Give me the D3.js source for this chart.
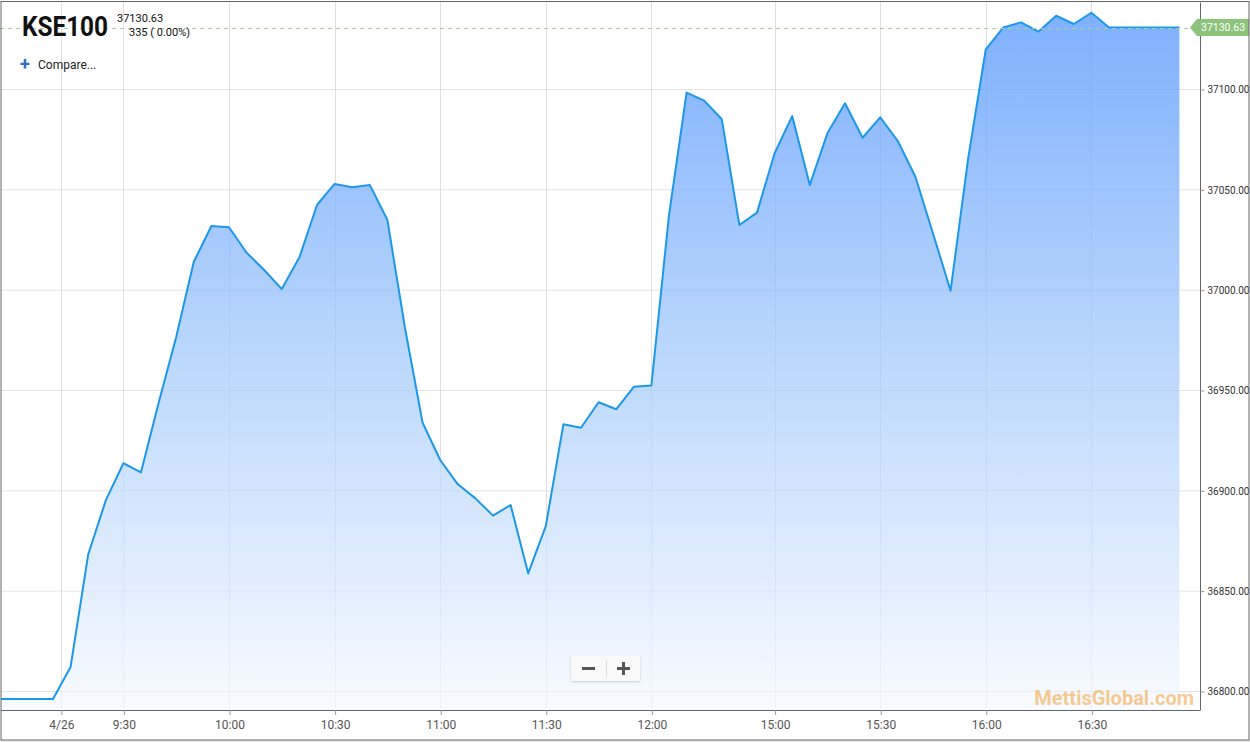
<!DOCTYPE html>
<html>
<head>
<meta charset="utf-8">
<script src="https://cdn.jsdelivr.net/npm/d3@7"></script>
<style>
  html, body { margin: 0; padding: 0; background: #fff; }
  svg { display: block; font-family: Roboto, "Noto Sans", sans-serif; }
</style>
</head>
<body>
<svg id="chart" width="1250" height="742"></svg>
<script>
// ---- data (5-minute points, index based; session break compressed) ----
const values = [
  36796, 36796, 36796, 36796, 36812, 36868, 36895, 36913.5, 36909, 36943.5,
  36976.4, 37013.9, 37031.7, 37031.1, 37018.4, 37009.8, 37000.3, 37016.1, 37042.2, 37052.7,
  37051, 37052.2, 37034.7, 36980.9, 36933.7, 36915.1, 36903, 36896, 36887.4, 36892.7,
  36858.6, 36882.2, 36932.9, 36931.2, 36943.9, 36940.4, 36951.6, 36952.3, 37037.2, 37098.2,
  37094.2, 37084.9, 37032.2, 37038.4, 37068, 37086.5, 37052.2, 37077.9, 37092.9, 37075.7,
  37085.9, 37074.1, 37056.3, 37028, 36999.5, 37065.5, 37119.8, 37130.7, 37133.2, 37128.6,
  37136.5, 37132.4, 37138, 37130.63, 37130.63, 37130.63, 37130.63, 37130.63
];
const xTickLabels = ["4/26", "9:30", "10:00", "10:30", "11:00", "11:30", "12:00", "15:00", "15:30", "16:00", "16:30"];
const xTickIndex  = [3.45, 7, 13, 19, 25, 31, 37, 44, 50, 56, 62];
const yTicks = [36800, 36850, 36900, 36950, 37000, 37050, 37100];
const symbol = "KSE100";
const lastPrice = 37130.63;
const changeText = "335 ( 0.00%)";
const watermark = "MettisGlobal.com";

// ---- layout ----
const svg = d3.select("#chart");
const plot = { left: 1, right: 1200, top: 2, bottom: 710 };

const x = d3.scaleLinear().domain([0, 68.17]).range([0.2, 1200]);
const y = d3.scaleLinear().domain([36800, 37100]).range([691, 89]);

svg.append("rect").attr("x", 0).attr("y", 740).attr("width", 1250).attr("height", 2).attr("fill", "#e9e9e9");

const defs = svg.append("defs");
const grad = defs.append("linearGradient").attr("id", "fillGrad")
  .attr("gradientUnits", "userSpaceOnUse").attr("x1", 0).attr("x2", 0).attr("y1", 12).attr("y2", plot.bottom);
grad.append("stop").attr("offset", 0).attr("stop-color", "#7eb0fd");
grad.append("stop").attr("offset", 0.5).attr("stop-color", "#bcd8fc");
grad.append("stop").attr("offset", 1).attr("stop-color", "#f8fbff");
defs.append("clipPath").attr("id", "plotClip").append("rect")
  .attr("x", plot.left).attr("y", plot.top).attr("width", plot.right - plot.left).attr("height", plot.bottom - plot.top);
const shadow = defs.append("filter").attr("id", "btnShadow").attr("x", "-20%").attr("y", "-30%").attr("width", "140%").attr("height", "170%");
shadow.append("feDropShadow").attr("dx", 0).attr("dy", 1).attr("stdDeviation", 1.2).attr("flood-color", "#000").attr("flood-opacity", 0.18);

// grid
const grid = svg.append("g");
grid.selectAll("line.h").data(yTicks).join("line")
  .attr("x1", plot.left).attr("x2", plot.right)
  .attr("y1", d => y(d) + 0.5).attr("y2", d => y(d) + 0.5)
  .attr("stroke", "#ececec").attr("stroke-width", 1);
grid.selectAll("line.v").data(xTickIndex).join("line")
  .attr("x1", d => Math.round(x(d)) + 0.5).attr("x2", d => Math.round(x(d)) + 0.5)
  .attr("y1", plot.top).attr("y2", plot.bottom)
  .attr("stroke", "#e9e9e9").attr("stroke-width", 1);

// area + line
const g = svg.append("g").attr("clip-path", "url(#plotClip)");
const area = d3.area().x((d, i) => x(i)).y0(plot.bottom).y1(d => y(d));
const line = d3.line().x((d, i) => x(i)).y(d => y(d));
g.append("path").datum(values).attr("d", area).attr("fill", "url(#fillGrad)");
g.selectAll("line.vo").data(xTickIndex).join("line")
  .attr("x1", d => Math.round(x(d)) + 0.5).attr("x2", d => Math.round(x(d)) + 0.5)
  .attr("y1", plot.top).attr("y2", plot.bottom)
  .attr("stroke", "#000").attr("stroke-opacity", 0.035);
g.selectAll("line.ho").data(yTicks).join("line")
  .attr("x1", plot.left).attr("x2", plot.right)
  .attr("y1", d => y(d) + 0.5).attr("y2", d => y(d) + 0.5)
  .attr("stroke", "#000").attr("stroke-opacity", 0.035);
g.append("path").datum(values).attr("d", line)
  .attr("fill", "none").attr("stroke", "#1c98ea").attr("stroke-width", 2).attr("stroke-linejoin", "round");

// last price dashed line
svg.append("line").attr("x1", 0).attr("x2", 1190)
  .attr("y1", Math.round(y(lastPrice)) + 0.5).attr("y2", Math.round(y(lastPrice)) + 0.5)
  .attr("stroke", "#a8cf98").attr("stroke-dasharray", "4,4").attr("stroke-width", 1);

// x axis
const xAxis = d3.axisBottom(x).tickValues(xTickIndex)
  .tickFormat((d, i) => xTickLabels[i]).tickSize(5).tickSizeOuter(0);
const xg = svg.append("g").attr("transform", `translate(0.5,${plot.bottom})`).call(xAxis);
xg.select(".domain").attr("stroke", "#666").attr("d", `M${plot.left - 0.5},0.5H${plot.right - 0.5}`);
xg.selectAll(".tick line").attr("stroke", "#999");
xg.selectAll(".tick text").attr("fill", "#555").attr("font-size", 12).attr("dy", "0.95em")
  .attr("font-family", "Roboto, sans-serif");

// y axis (right)
const yAxis = d3.axisRight(y).tickValues(yTicks).tickFormat(d3.format(".2f")).tickSize(4).tickPadding(3).tickSizeOuter(0);
const yg = svg.append("g").attr("transform", `translate(${plot.right + 0.5},0.5)`).call(yAxis);
yg.select(".domain").attr("stroke", "#666").attr("d", `M0,${plot.top}V${plot.bottom}`);
yg.selectAll(".tick line").attr("stroke", "#999");
yg.selectAll(".tick text").attr("fill", "#333").attr("font-size", 10).attr("font-family", "Roboto, sans-serif");

// price tag
const ty = y(lastPrice);
const tag = svg.append("g");
tag.append("path")
  .attr("d", `M1190,${ty} L1197,${ty - 8.5} H1249 V${ty + 8.5} H1197 Z`)
  .attr("fill", "#8cc279");
tag.append("text").attr("x", 1201).attr("y", ty).attr("dy", "0.35em")
  .attr("fill", "#fff").attr("font-size", 10.5).text(lastPrice.toFixed(2));

// outer frame
svg.append("rect").attr("x", 1).attr("y", 1.5).attr("width", 1248).attr("height", 738.5)
  .attr("fill", "none").attr("stroke", "#666").attr("stroke-width", 1);

// header
svg.append("text").attr("x", 22).attr("y", 36).attr("font-size", 28).attr("font-weight", 700)
  .attr("fill", "#111").attr("textLength", 86).attr("lengthAdjust", "spacingAndGlyphs").text(symbol);
svg.append("text").attr("x", 117).attr("y", 22).attr("font-size", 11).attr("fill", "#111").text(lastPrice.toFixed(2));
svg.append("text").attr("x", 129).attr("y", 36).attr("font-size", 11).attr("fill", "#111").text(changeText);
svg.append("text").attr("x", 20).attr("y", 70).attr("font-size", 18).attr("font-weight", 700).attr("fill", "#2a6fc9").text("+");
svg.append("text").attr("x", 38).attr("y", 69).attr("font-size", 12).attr("fill", "#222").text("Compare...");

// zoom buttons
const zb = svg.append("g");
zb.append("rect").attr("x", 571).attr("y", 656).attr("width", 69).attr("height", 25).attr("rx", 2)
  .attr("fill", "#f9f9f9").attr("filter", "url(#btnShadow)");
zb.append("line").attr("x1", 606.5).attr("x2", 606.5).attr("y1", 660).attr("y2", 677).attr("stroke", "#ddd");
zb.append("rect").attr("x", 582).attr("y", 667).attr("width", 13).attr("height", 3).attr("fill", "#555");
zb.append("rect").attr("x", 617).attr("y", 667).attr("width", 13).attr("height", 3).attr("fill", "#555");
zb.append("rect").attr("x", 622).attr("y", 662).attr("width", 3).attr("height", 13).attr("fill", "#555");

// watermark
svg.append("text").attr("x", 1194).attr("y", 705).attr("text-anchor", "end")
  .attr("font-size", 20).attr("font-weight", 700).attr("font-family", "Roboto, Arial, sans-serif")
  .attr("fill", "#f4b460").attr("fill-opacity", 0.7).text(watermark);
</script>
</body>
</html>
